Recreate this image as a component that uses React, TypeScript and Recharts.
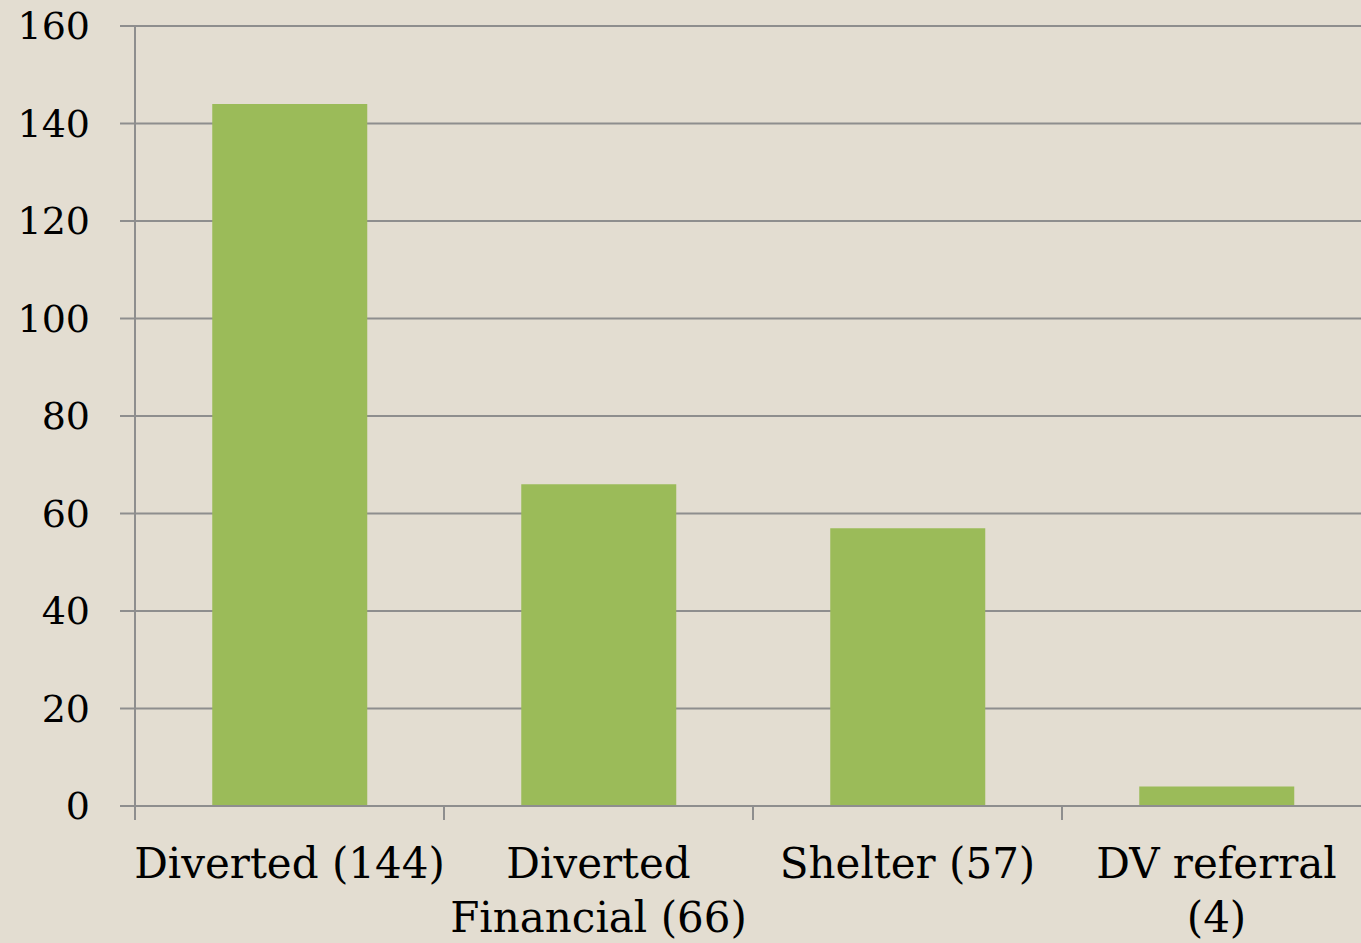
import { BarChart, Bar, XAxis, YAxis, CartesianGrid } from 'recharts';

const categories = ['Diverted (144)', 'Diverted Financial (66)', 'Shelter (57)', 'DV referral (4)'];
const tickLines = [['Diverted (144)'], ['Diverted', 'Financial (66)'], ['Shelter (57)'], ['DV referral', '(4)']];
const counts = [144, 66, 57, 4];
const yTicks = [0, 20, 40, 60, 80, 100, 120, 140, 160];

const chartData = categories.map((name, i) => ({ name, count: counts[i], lines: tickLines[i] }));

const FONT = "'DejaVu Serif', Georgia, serif";
const GRID = '#8e8e8e';

function CategoryTick({ x, y, index }: any) {
  const lines = tickLines[index] || [];
  return (
    <text x={x} y={y} textAnchor="middle" fontFamily={FONT} fontSize={42} fill="#000">
      {lines.map((line, i) => (
        <tspan key={i} x={x} dy={i === 0 ? 58 : 54}>
          {line}
        </tspan>
      ))}
    </text>
  );
}

export default function App() {
  return (
    <div
      style={{
        position: 'absolute',
        left: 0,
        top: 0,
        width: 1361,
        height: 943,
        overflow: 'hidden',
        background: '#e3ddd1',
      }}
    >
      <BarChart
        width={1371}
        height={943}
        data={chartData}
        margin={{ top: 26, right: 0, left: 0, bottom: 0 }}
        barCategoryGap="25%"
      >
        <CartesianGrid vertical={false} stroke={GRID} strokeWidth={2} />
        <XAxis
          dataKey="name"
          interval={0}
          height={137}
          stroke={GRID}
          strokeWidth={2}
          tickSize={14}
          tickMargin={0}
          tickLine={{ stroke: GRID, strokeWidth: 2, transform: 'translate(-154.5,0)' }}
          tick={<CategoryTick />}
        />
        <YAxis
          domain={[0, 160]}
          ticks={yTicks}
          width={135}
          stroke={GRID}
          strokeWidth={2}
          tickSize={15}
          tickMargin={30}
          tick={{ fill: '#000', fontSize: 38, fontFamily: FONT }}
        />
        <Bar dataKey="count" fill="#9bbb59" isAnimationActive={false} />
      </BarChart>
    </div>
  );
}
